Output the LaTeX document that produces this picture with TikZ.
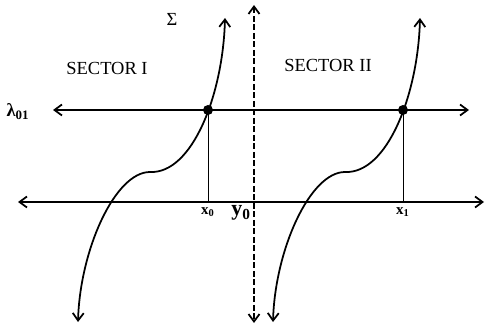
\documentclass[tikz,border=0pt]{standalone}
\usepackage{fontspec}
\setmainfont{Liberation Serif}
\usetikzlibrary{arrows.meta,positioning}

\begin{document}
\begin{tikzpicture}[x=0.2mm,y=-0.2mm,font=\fontsize{10.5}{12}\selectfont,
  barb/.tip={Straight Barb[length=1.5mm,width=2.2mm]},
  twoway/.style={line width=1pt,barb-barb},
  dot/.style={circle,fill,inner sep=0pt,minimum size=2mm},
  sub/.style={font=\fontsize{8.5}{9}\selectfont\bfseries,inner sep=1pt}]
\useasboundingbox (0,0) rectangle (486,327);
% axes
\coordinate (lamL) at (53,110); \coordinate (lamR) at (469,110);
\coordinate (axL) at (18,202); \coordinate (axR) at (484,202);
\coordinate (yTop) at (254,5); \coordinate (yBot) at (254,323);
\draw[twoway] (lamL) -- (lamR);
\draw[twoway] (axL) -- (axR);
\draw[twoway,dash pattern=on 1.2mm off 0.5mm] (yTop) -- (yBot);
% the two branches
\foreach \s/\i in {0/0,195/1} {
  \begin{scope}[shift={(\s,0)}]
    \coordinate (lo\i) at (78,322); \coordinate (mid\i) at (150,172); \coordinate (hi\i) at (225,18);
    \draw[twoway] (lo\i) .. controls (80,250) and (115,172) .. (mid\i) .. controls (192,174) and (223,95) .. (hi\i);
    \node[dot] (d\i) at (208,110) {};
  \end{scope}
  \draw[thin] (d\i.center) -- (d\i.center |- axL);
  \node[sub,below=2pt of {d\i.center |- axL}] (x\i) {x\textsubscript{\i}};
}
% labels
\node (sec1) at (107,68) {SECTOR I};
\node (sec2) at (328,65) {SECTOR II};
\node (sig) at (172,19) {Σ};
\node[font=\fontsize{10.5}{12}\selectfont\bfseries,inner sep=1pt] (lam) at (18,112) {λ\textsubscript{01}};
\node[font=\fontsize{12.5}{14}\selectfont\bfseries,inner sep=1pt,below left=1pt and 0.5pt of {yTop |- axL}] (y0) {y\textsubscript{0}};
\end{tikzpicture}
\end{document}
